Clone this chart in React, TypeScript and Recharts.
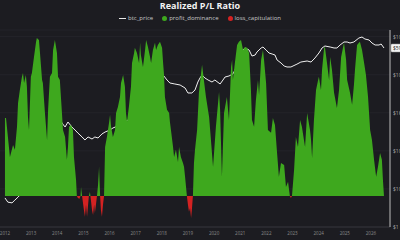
import { Area, CartesianGrid, ComposedChart, Line, XAxis, YAxis } from "recharts"

const BG = "#1c1c21"
const GREEN = "#3ea81e"
const RED = "#d42222"
const FONT = "'Open Sans', 'DejaVu Sans', sans-serif"

const yearTicks = [2012, 2013, 2014, 2015, 2016, 2017, 2018, 2019, 2020, 2021, 2022, 2023, 2024, 2025, 2026]
const priceTicks = [1, 10, 100, 1000, 10000, 100000]
const lastPriceLabel = "$59,180"

// realized P/L ratio, signed: above 0 = profit dominance, below 0 = loss capitulation
const ratioDates = [
  2012.0, 2012.04, 2012.19, 2012.31, 2012.38, 2012.46, 2012.5, 2012.57, 2012.65, 2012.69,
  2012.73, 2012.8, 2012.84, 2012.88, 2012.92, 2012.99, 2013.03, 2013.11, 2013.19, 2013.22,
  2013.3, 2013.34, 2013.42, 2013.45, 2013.53, 2013.61, 2013.65, 2013.72, 2013.8, 2013.84,
  2013.91, 2013.99, 2014.03, 2014.1, 2014.18, 2014.22, 2014.3, 2014.37, 2014.41, 2014.45,
  2014.53, 2014.6, 2014.64, 2014.72, 2014.75,
  2014.79, 2014.85, 2014.89, 2014.91, 2014.95, 2015.02, 2015.06, 2015.1, 2015.14, 2015.18,
  2015.21, 2015.25, 2015.27, 2015.33, 2015.37, 2015.41, 2015.44, 2015.48, 2015.52, 2015.56,
  2015.6, 2015.64, 2015.67, 2015.71, 2015.75, 2015.79,
  2015.83, 2015.9, 2015.98, 2016.02, 2016.06, 2016.13, 2016.21, 2016.25, 2016.32, 2016.4,
  2016.44, 2016.52, 2016.59, 2016.63, 2016.67, 2016.74, 2016.82, 2016.86, 2016.94, 2016.97,
  2017.05, 2017.13, 2017.17, 2017.2, 2017.28, 2017.36, 2017.4, 2017.47, 2017.55, 2017.59,
  2017.66, 2017.74, 2017.78, 2017.85, 2017.93, 2018.01, 2018.05, 2018.08, 2018.12, 2018.2,
  2018.28, 2018.31, 2018.35, 2018.43, 2018.47, 2018.54, 2018.62, 2018.66, 2018.73, 2018.81,
  2018.85, 2018.89, 2018.96,
  2019.0, 2019.04, 2019.08, 2019.12, 2019.15, 2019.19,
  2019.23, 2019.27, 2019.35, 2019.42, 2019.54, 2019.61, 2019.69, 2019.81, 2019.88, 2019.96,
  2020.07, 2020.19, 2020.23, 2020.3, 2020.38, 2020.49, 2020.57, 2020.65, 2020.69, 2020.72,
  2020.8, 2020.88, 2020.95, 2021.03, 2021.11, 2021.18, 2021.26, 2021.34, 2021.41, 2021.45,
  2021.53, 2021.6, 2021.68, 2021.72, 2021.8, 2021.87, 2021.91, 2021.99, 2022.06, 2022.18,
  2022.25, 2022.33, 2022.41, 2022.48, 2022.56, 2022.68, 2022.75, 2022.83, 2022.87, 2022.9,
  2022.94, 2022.98, 2023.06, 2023.13, 2023.21, 2023.29, 2023.36, 2023.48, 2023.56, 2023.67,
  2023.71, 2023.75, 2023.82, 2023.9, 2023.98, 2024.01, 2024.09, 2024.13, 2024.21, 2024.24,
  2024.32, 2024.4, 2024.44, 2024.51, 2024.59, 2024.7, 2024.78, 2024.86, 2024.97, 2025.05,
  2025.09, 2025.2, 2025.28, 2025.35, 2025.39, 2025.47, 2025.54, 2025.58, 2025.66, 2025.74,
  2025.81, 2025.89, 2025.97, 2026.04, 2026.12, 2026.2, 2026.27, 2026.35, 2026.42, 2026.46,
  2026.5,
]
const ratioValues = [
  3.76, 3.76, 1.88, 2.46, 2.22, 3.33, 4.48, 5.11, 5.74, 5.93,
  5.45, 5.83, 5.26, 3.81, 3.18, 5.74, 5.93, 6.7, 7.43, 7.62,
  7.52, 6.89, 5.59, 5.45, 4.0, 2.7, 4.15, 5.74, 5.93, 7.04,
  7.52, 6.89, 5.74, 5.59, 4.0, 3.18, 2.84, 1.74, 2.36, 3.33,
  3.42, 3.18, 1.88, 0.77, 0,
  -0.1, -0.14, 0, 0.43, 0, -0.68, -1.01, -0.43, -1.01, -0.43,
  0, 0.19, 0, -0.68, -0.92, -0.43, -0.82, -0.43, 0, 0.53,
  1.4, 0, -0.68, -1.01, -0.43, 0,
  2.36, 2.84, 3.52, 3.91, 3.33, 2.84, 3.18, 4.0, 4.29, 4.77,
  5.45, 5.83, 5.26, 4.0, 3.57, 4.29, 5.26, 6.41, 6.89, 7.14,
  6.89, 6.41, 7.38, 6.8, 6.22, 7.04, 7.52, 7.18, 6.7, 6.41,
  7.04, 7.38, 7.04, 7.28, 7.43, 7.14, 6.41, 5.93, 4.77, 4.15,
  4.0, 3.57, 3.18, 2.36, 1.88, 2.22, 1.64, 2.36, 1.88, 1.59,
  1.4, 0.92, 0,
  -0.43, -0.77, -0.58, -1.06, -0.68, 0,
  1.59, 2.22, 3.18, 4.97, 6.32, 5.59, 4.77, 3.81, 2.7, 1.4,
  3.33, 5.01, 4.15, 0.92, 4.0, 4.77, 3.66, 6.22, 6.56, 5.59,
  6.46, 7.28, 7.43, 7.52, 7.04, 7.18, 7.14, 6.89, 5.11, 3.66,
  3.33, 4.63, 5.59, 4.87, 6.56, 7.04, 6.56, 5.45, 3.18, 3.04,
  3.76, 3.42, 2.07, 0.92, 1.59, 1.49, 0.43, 0.68, 0.29, 0,
  -0.1, 0, 1.25, 2.84, 2.36, 3.66, 3.33, 2.36, 4.0, 3.18,
  2.7, 1.83, 3.66, 5.11, 5.59, 5.74, 5.11, 6.08, 7.14, 7.18,
  6.41, 5.59, 6.7, 6.08, 4.97, 4.24, 5.11, 6.7, 7.38, 6.56,
  5.59, 4.97, 4.39, 5.35, 6.08, 7.28, 7.38, 7.43, 7.04, 6.41,
  5.83, 4.77, 3.18, 2.7, 1.74, 0.92, 1.4, 2.07, 1.74, 0.77,
  0,
]

const priceDates = [
  2012.0, 2012.11, 2012.27, 2012.38, 2012.5, 2012.65, 2012.96, 2013.26, 2013.42, 2013.61,
  2013.8, 2013.95, 2014.1, 2014.18, 2014.3, 2014.41, 2014.56, 2014.68, 2014.79, 2014.95,
  2015.06, 2015.18, 2015.33, 2015.44, 2015.56, 2015.71, 2015.83, 2016.02, 2016.13, 2016.4,
  2016.71, 2016.97, 2017.17, 2017.47, 2017.74, 2017.93, 2018.05, 2018.2, 2018.31, 2018.5,
  2018.7, 2018.89, 2019.0, 2019.15, 2019.27, 2019.38, 2019.46, 2019.54, 2019.65, 2019.77,
  2019.92, 2020.03, 2020.23, 2020.34, 2020.42, 2020.57, 2020.72, 2020.8, 2020.88, 2021.03,
  2021.18, 2021.34, 2021.45, 2021.57, 2021.64, 2021.8, 2021.87, 2021.99, 2022.1, 2022.22,
  2022.33, 2022.41, 2022.56, 2022.68, 2022.79, 2022.94, 2023.02, 2023.17, 2023.32, 2023.56,
  2023.71, 2023.86, 2024.01, 2024.13, 2024.24, 2024.44, 2024.59, 2024.7, 2024.82, 2024.97,
  2025.09, 2025.2, 2025.35, 2025.54, 2025.66, 2025.77, 2025.93, 2026.04, 2026.16, 2026.31,
  2026.39, 2026.5,
]
const priceValues = [
  5.8, 4.5, 4.3, 5.1, 6.1, 7.8, 10.6, 43, 171, 93,
  143, 1050, 731, 540, 424, 574, 424, 354, 295, 232,
  193, 232, 205, 232, 218, 278, 313, 354, 399, 479,
  650, 931, 1340, 2940, 7280, 15060, 9860, 7280, 6070, 5720,
  5380, 4490, 3320, 3320, 3980, 6450, 8220, 9860, 8220, 7280,
  6450, 7280, 5720, 7280, 8730, 9270, 10500, 13330, 17000, 39600,
  50500, 44700, 31100, 33000, 39600, 50500, 53600, 44700, 37300, 35100,
  33000, 24400, 20400, 17000, 16000, 16000, 17000, 19000, 21600, 23000,
  21600, 27600, 37300, 50500, 57000, 53600, 50500, 50500, 60500, 72600,
  72600, 68300, 72600, 92400, 98200, 87100, 81900, 68300, 60500, 60500,
  64300, 50500,
]

type Row = { t: number; profit?: number; loss?: number; price?: number }

function buildRows(): Row[] {
  const byDate = new Map<number, Row>()
  ratioDates.forEach((t, i) => {
    const v = ratioValues[i]
    const row = byDate.get(t) ?? { t }
    row.profit = Math.max(v, 0)
    row.loss = Math.min(v, 0)
    byDate.set(t, row)
  })
  priceDates.forEach((t, i) => {
    const row = byDate.get(t) ?? { t }
    row.price = priceValues[i]
    byDate.set(t, row)
  })
  return [...byDate.values()].sort((a, b) => a.t - b.t)
}

const rows = buildRows()

function fmtPrice(v: number) {
  if (v >= 1000) return `$${v / 1000}K`
  return `$${v}`
}

function PriceTag(props: any) {
  const { x, y, index } = props
  if (index !== rows.length - 1 || x == null || y == null) return null
  return (
    <g>
      <rect x={x + 7} y={y - 4} width={16} height={8} rx={1} fill="#f4f4f4" stroke="#9a9a9a" strokeWidth={0.5} />
      <text x={x + 9} y={y} dy={1.8} fontSize={5} fill="#222" fontFamily={FONT}>
        {lastPriceLabel}
      </text>
    </g>
  )
}

function LegendItem({ kind, color, label }: { kind: "line" | "dot"; color: string; label: string }) {
  return (
    <span style={{ display: "inline-flex", alignItems: "center", gap: 2 }}>
      {kind === "line" ? (
        <span style={{ width: 7, height: 1, background: color, display: "inline-block" }} />
      ) : (
        <span style={{ width: 5, height: 5, borderRadius: "50%", background: color, display: "inline-block" }} />
      )}
      <span>{label}</span>
    </span>
  )
}

export default function App() {
  return (
    <div
      style={{
        position: "fixed",
        top: 0,
        left: 0,
        width: 400,
        height: 240,
        background: BG,
        overflow: "hidden",
        fontFamily: FONT,
      }}
    >
      <div
        style={{
          position: "absolute",
          top: 0,
          left: 0,
          width: 400,
          height: 12,
          lineHeight: "12px",
          textAlign: "center",
          fontSize: 9,
          fontWeight: 700,
          color: "#f2f2f2",
        }}
      >
        Realized P/L Ratio
      </div>
      <div
        style={{
          position: "absolute",
          top: 14,
          left: 0,
          width: 400,
          height: 8,
          lineHeight: "8px",
          display: "flex",
          justifyContent: "center",
          gap: 9,
          fontSize: 6,
          color: "#c8c8c8",
        }}
      >
        <LegendItem kind="line" color="#e8e8e8" label="btc_price" />
        <LegendItem kind="dot" color={GREEN} label="profit_dominance" />
        <LegendItem kind="dot" color={RED} label="loss_capitulation" />
      </div>
      <div style={{ position: "absolute", top: 0, left: 0 }}>
        <ComposedChart width={400} height={240} data={rows} margin={{ top: 30, right: 0, bottom: 0, left: 0 }}>
          <CartesianGrid yAxisId="price" vertical={false} stroke="#2a2a30" strokeWidth={0.6} />
          <XAxis
            dataKey="t"
            type="number"
            domain={[2011.81, 2026.73]}
            allowDataOverflow
            ticks={yearTicks}
            interval={0}
            height={13}
            tickSize={0}
            tickMargin={6}
            axisLine={{ stroke: "#34343a" }}
            tick={(p: any) => (
              <text x={p.x} y={p.y} dy={1.6} textAnchor="middle" fontSize={4.5} fill="#8a8a8a" fontFamily={FONT}>
                {p.payload.value}
              </text>
            )}
          />
          <YAxis yAxisId="ratio" hide domain={[-1.5, 8]} allowDataOverflow />
          <YAxis
            yAxisId="price"
            orientation="right"
            scale="log"
            domain={[1, 150000]}
            allowDataOverflow
            ticks={priceTicks}
            interval={0}
            width={10}
            tickSize={0}
            tickMargin={3}
            axisLine={{ stroke: "#bdbdbd" }}
            tick={(p: any) => (
              <text x={p.x} y={p.y} dy={1.8} textAnchor="start" fontSize={5} fill="#a8a8a8" fontFamily={FONT}>
                {fmtPrice(p.payload.value)}
              </text>
            )}
          />
          <Line
            yAxisId="price"
            type="linear"
            dataKey="price"
            stroke="#f0f0f0"
            strokeWidth={1}
            dot={false}
            activeDot={false}
            connectNulls
            isAnimationActive={false}
            zIndex={50}
            label={PriceTag}
          />
          <Area
            yAxisId="ratio"
            type="linear"
            dataKey="profit"
            fill={GREEN}
            fillOpacity={1}
            stroke="none"
            baseValue={0}
            connectNulls
            dot={false}
            activeDot={false}
            isAnimationActive={false}
          />
          <Area
            yAxisId="ratio"
            type="linear"
            dataKey="loss"
            fill={RED}
            fillOpacity={1}
            stroke="none"
            baseValue={0}
            connectNulls
            dot={false}
            activeDot={false}
            isAnimationActive={false}
          />
        </ComposedChart>
      </div>
    </div>
  )
}
